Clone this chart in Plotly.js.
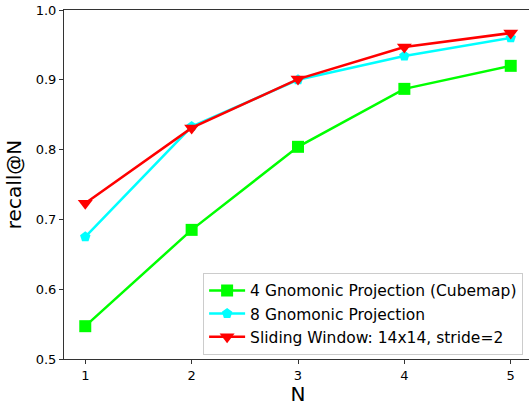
<!DOCTYPE html>
<html><head><meta charset="utf-8">
<script src="https://cdn.plot.ly/plotly-3.0.1.min.js"></script>
<style>html,body{margin:0;padding:0;overflow:hidden;background:#fff}</style>
</head><body>
<div id="chart"></div>
<script>
const N = [1, 2, 3, 4, 5];
const cubemap4 = [0.547, 0.685, 0.804, 0.887, 0.920];
const gnomonic8 = [0.675, 0.833, 0.900, 0.934, 0.960];
const sliding = [0.723, 0.831, 0.901, 0.947, 0.967];
const names = ["4 Gnomonic Projection (Cubemap)", "8 Gnomonic Projection", "Sliding Window: 14x14, stride=2"];
const xTicks = [1, 2, 3, 4, 5];
const yTicks = [0.5, 0.6, 0.7, 0.8, 0.9, 1.0];

const traces = [
  {x: N, y: cubemap4, name: names[0], mode: "lines+markers", line: {color: "#00ff00", width: 2.5}, marker: {symbol: "square", size: 12, color: "#00ff00"}},
  {x: N, y: gnomonic8, name: names[1], mode: "lines+markers", line: {color: "#00ffff", width: 2.5}, marker: {symbol: "pentagon", size: 11, color: "#00ffff"}},
  {x: N, y: sliding, name: names[2], mode: "lines+markers", line: {color: "#ff0000", width: 2.5}, marker: {symbol: "triangle-down", size: 13, color: "#ff0000"}}
];
const axisCommon = {showgrid: false, zeroline: false, showline: true, linecolor: "#333", linewidth: 1, mirror: true, ticks: "outside", ticklen: 4, tickcolor: "#333", tickfont: {family: "DejaVu Sans", size: 13, color: "#000"}};
const layout = {
  width: 532, height: 406,
  margin: {l: 64, r: 0, t: 10, b: 47},
  paper_bgcolor: "#fff", plot_bgcolor: "#fff",
  font: {family: "DejaVu Sans", color: "#000"},
  xaxis: Object.assign({}, axisCommon, {range: [0.8, 5.2], tickvals: xTicks, ticktext: xTicks.map(String), title: {text: "N", font: {size: 20}, standoff: 4}}),
  yaxis: Object.assign({}, axisCommon, {range: [0.5, 1.0], tickvals: yTicks, ticktext: yTicks.map(v => v.toFixed(1)), title: {text: "recall@N", font: {size: 20}, standoff: 8}}),
  showlegend: true,
  legend: {x: 0.981, y: 0.012, xanchor: "right", yanchor: "bottom", bgcolor: "rgba(255,255,255,0.8)", bordercolor: "#cccccc", borderwidth: 1, itemwidth: 36, font: {family: "DejaVu Sans", size: 15.5, color: "#000"}}
};
Plotly.newPlot("chart", traces, layout, {displayModeBar: false, staticPlot: true});
</script>
</body></html>
